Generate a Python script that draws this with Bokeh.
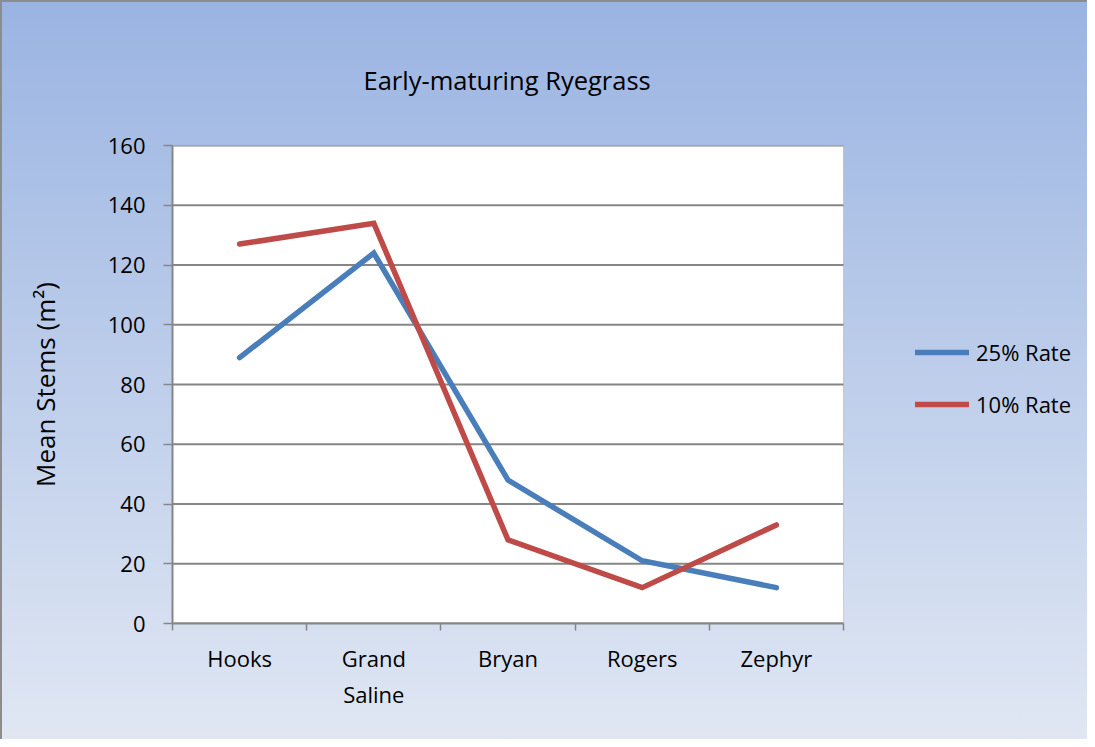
from bokeh.plotting import figure
from bokeh.models import (Range1d, FixedTicker, Legend, LegendItem, BoxAnnotation)
from bokeh.embed import file_html
from bokeh.resources import INLINE

categories = ["Hooks", "Grand Saline", "Bryan", "Rogers", "Zephyr"]
rate_25 = [89, 124, 48, 21, 12]
rate_10 = [127, 134, 28, 12, 33]
y_ticks = [0, 20, 40, 60, 80, 100, 120, 140, 160]
series_names = ["25% Rate", "10% Rate"]
title_text = "Early-maturing Ryegrass"
y_label = "Mean Stems (m\u00b2)"

FONT = "Open Sans"
FS = "22px"
GRAY = "#868686"
BLUE = "#4A7EBB"
RED = "#BE4B48"

W, H = 1087, 739
LEFT, TOP, BOTTOM = 170, 143, 118
PLOT_PX = 671                 # width of the white plot area in pixels
FRAME_PX = W - LEFT           # frame extends to the right edge (legend lives inside)
n = len(categories)
x_end = n * FRAME_PX / PLOT_PX
xs = [i + 0.5 for i in range(n)]

p = figure(width=W, height=H, output_backend="svg", toolbar_location=None,
           x_range=Range1d(0, x_end), y_range=Range1d(0, 160),
           min_border_left=LEFT, min_border_top=TOP, min_border_right=0,
           min_border_bottom=BOTTOM)
p.border_fill_color = None
p.background_fill_color = None
p.outline_line_color = None
p.styles = {"background-image": "linear-gradient(to bottom, #9AB4E2, #E0E7F3)",
            "border-left": "2px solid #8C8C8C", "border-top": "2px solid #8C8C8C",
            "box-sizing": "border-box"}

# white plot area
p.add_layout(BoxAnnotation(left=0, right=n, bottom=0, top=160, fill_color="white",
                           fill_alpha=1, line_color=GRAY, line_width=1, level="image"))

p.title.text = title_text
p.title.align = "left"
p.title.offset = 191
p.title.text_font = FONT
p.title.text_font_size = "25.5px"
p.title.text_font_style = "normal"
p.title.text_color = "black"
p.title.standoff = 97

# axes
p.xaxis.bounds = (0, n)
p.xaxis.ticker = FixedTicker(ticks=xs, minor_ticks=list(range(n + 1)))
p.xaxis.major_label_overrides = {x: c.replace(" ", "\n") for x, c in zip(xs, categories)}
p.xaxis.major_tick_out = 0
p.xaxis.major_tick_in = 0
p.xaxis.minor_tick_out = 7
p.xaxis.minor_tick_in = 0
p.xaxis.minor_tick_line_color = GRAY
p.xaxis.minor_tick_line_width = 1.5
p.xaxis.major_label_standoff = 12
p.yaxis.ticker = FixedTicker(ticks=y_ticks)
p.yaxis.minor_tick_line_color = None
p.yaxis.major_tick_out = 9
p.yaxis.major_tick_in = 0
p.yaxis.major_label_standoff = 18
for ax in (p.xaxis, p.yaxis):
    ax.axis_line_color = GRAY
    ax.axis_line_width = 2
    ax.major_tick_line_color = GRAY
    ax.major_tick_line_width = 1.5
    ax.major_label_text_font = FONT
    ax.major_label_text_font_size = FS
    ax.major_label_text_color = "black"
p.yaxis.axis_label = y_label
p.yaxis.axis_label_text_font = FONT
p.yaxis.axis_label_text_font_size = "26px"
p.yaxis.axis_label_text_font_style = "normal"
p.yaxis.axis_label_text_color = "black"
p.yaxis.axis_label_standoff = 42

# horizontal grid lines limited to the plot area
p.xgrid.grid_line_color = None
p.ygrid.grid_line_color = None
p.segment(x0=[0] * len(y_ticks), x1=[n] * len(y_ticks), y0=y_ticks, y1=y_ticks,
          line_color=GRAY, line_width=2, level="underlay")

r1 = p.line(xs, rate_25, line_color=BLUE, line_width=5.5, line_cap="round", line_join="miter")
r2 = p.line(xs, rate_10, line_color=RED, line_width=5.5, line_cap="round", line_join="miter")

legend = Legend(items=[LegendItem(label=series_names[0], renderers=[r1]),
                       LegendItem(label=series_names[1], renderers=[r2])],
                location=(743, 204), orientation="vertical",
                background_fill_alpha=0, border_line_color=None,
                padding=0, margin=0, spacing=22, glyph_width=54, glyph_height=20,
                label_height=20, label_standoff=7,
                label_text_font=FONT, label_text_font_size=FS,
                label_text_color="black")
p.add_layout(legend, "center")

open("out.html", "w").write(file_html(p, INLINE))
